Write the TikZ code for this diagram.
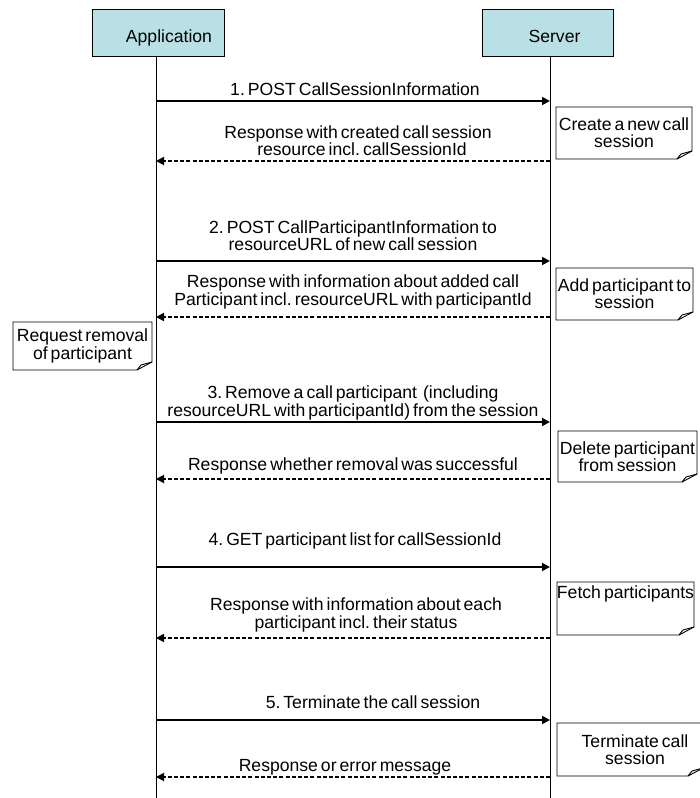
\documentclass[tikz,border=0pt]{standalone}
\usepackage{fontspec}
\setmainfont{Liberation Sans}
\usetikzlibrary{arrows.meta}
\definecolor{headfill}{RGB}{185,224,228}

% note with a turned-down lower right corner: name, x1, y1, x2, y2, text
\newcommand\seqnote[6]{%
  \draw[notefrm] (#2,#3) -- (#4,#3) -- (#4,{#5-8}) -- ({#4-15},#5) -- (#2,#5) -- cycle;
  \draw[notefrm] ({#4-15},#5) -- ({#4-11},{#5-5}) -- (#4,{#5-8});
  \node[notetxt] (#1) at ({(#2+#4)/2},{(#3+#5)/2}) {#6};
}

\begin{document}
\begin{tikzpicture}[x=1pt,y=-1pt,
  every node/.style={font=\fontsize{17.6}{17.3}\selectfont, inner sep=0pt, align=center,
    execute at begin node={\frenchspacing\spaceskip=3pt plus 1pt\relax}},
  actor/.style={draw, line width=1pt, fill=headfill, minimum width=132pt, minimum height=47pt},
  lifeline/.style={line width=0.9pt},
  notefrm/.style={line width=0.9pt, line join=miter},
  notetxt/.style={},
  callarrow/.style={line width=1.8pt, -{Triangle[length=8pt,width=8pt]}},
  reply/.style={line width=1.8pt, dash pattern=on 4pt off 2.2pt, -{Triangle[length=8pt,width=8pt]}},
  msg/.style={}]
\useasboundingbox (0,0) rectangle (699,798);

% participants
\node[actor] (appbox) at (158,32.5) {};
\node[anchor=base] (apptxt) at (169,42.5) {Application};
\node[actor, minimum width=131pt] (srvbox) at (547.5,32.5) {};
\node[anchor=base] (srvtxt) at (554.5,42) {Server};

% lifelines
\coordinate (append) at (156,798);
\coordinate (srvend) at (550,798);
\draw[lifeline] (appbox.south -| append) -- (append);
\draw[lifeline] (srvbox.south -| srvend) -- (srvend);

% message levels on both lifelines
\foreach \n/\y in {m1/101, r1/161, m2/261, r2/317, m3/422, r3/479, m4/567, r4/638, m5/720, r5/777}{
  \coordinate (app-\n) at (156,\y);
  \coordinate (srv-\n) at (550,\y);
}

% messages
\draw[callarrow] (app-m1) -- (srv-m1);
\node[msg] (l1) at (355,89) {1. POST CallSessionInformation};
\draw[reply] (srv-r1) -- (app-r1);
\node[msg] (lr1) at (358,140.6) {Response with created call session\\ \hspace*{8pt}resource incl. callSessionId};

\draw[callarrow] (app-m2) -- (srv-m2);
\node[msg] (l2) at (353,235.6) {2. POST CallParticipantInformation to\\resourceURL of new call session};
\draw[reply] (srv-r2) -- (app-r2);
\node[msg] (lr2) at (353,292) {Response with information about added call\\Participant incl. resourceURL with participantId};

\draw[callarrow] (app-m3) -- (srv-m3);
\node[msg] (l3) at (353,403) {3. Remove a call participant\ \ (including\\resourceURL with participantId) from the session};
\draw[reply] (srv-r3) -- (app-r3);
\node[msg] (lr3) at (353,466) {Response whether removal was successful};

\draw[callarrow] (app-m4) -- (srv-m4);
\node[msg] (l4) at (355,541) {4. GET participant list for callSessionId};
\draw[reply] (srv-r4) -- (app-r4);
\node[msg] (lr4) at (356,615) {Response with information about each\\participant incl. their status};

\draw[callarrow] (app-m5) -- (srv-m5);
\node[msg] (l5) at (373,702.5) {5. Terminate the call session};
\draw[reply] (srv-r5) -- (app-r5);
\node[msg] (lr5) at (345,767.5) {Response or error message};

% notes
\seqnote{n1}{556}{107}{692}{159}{Create a new call\\session}
\seqnote{n2}{556}{268}{693}{320}{Add participant to\\session}
\seqnote{nreq}{13}{322}{152}{370}{Request removal\\of participant}
\seqnote{n3}{558}{431}{697}{482}{Delete participant\\from session}
\draw[notefrm] (557,582) -- (694,582) -- (694,627) -- (679,635) -- (557,635) -- cycle;
\draw[notefrm] (679,635) -- (683,630) -- (694,627);
\node[notetxt] (n4) at (625.5,594) {Fetch participants};
\seqnote{n5}{557}{723}{703}{776}{\hspace*{10pt}Terminate call\\\hspace*{10pt}session}
\end{tikzpicture}
\end{document}
